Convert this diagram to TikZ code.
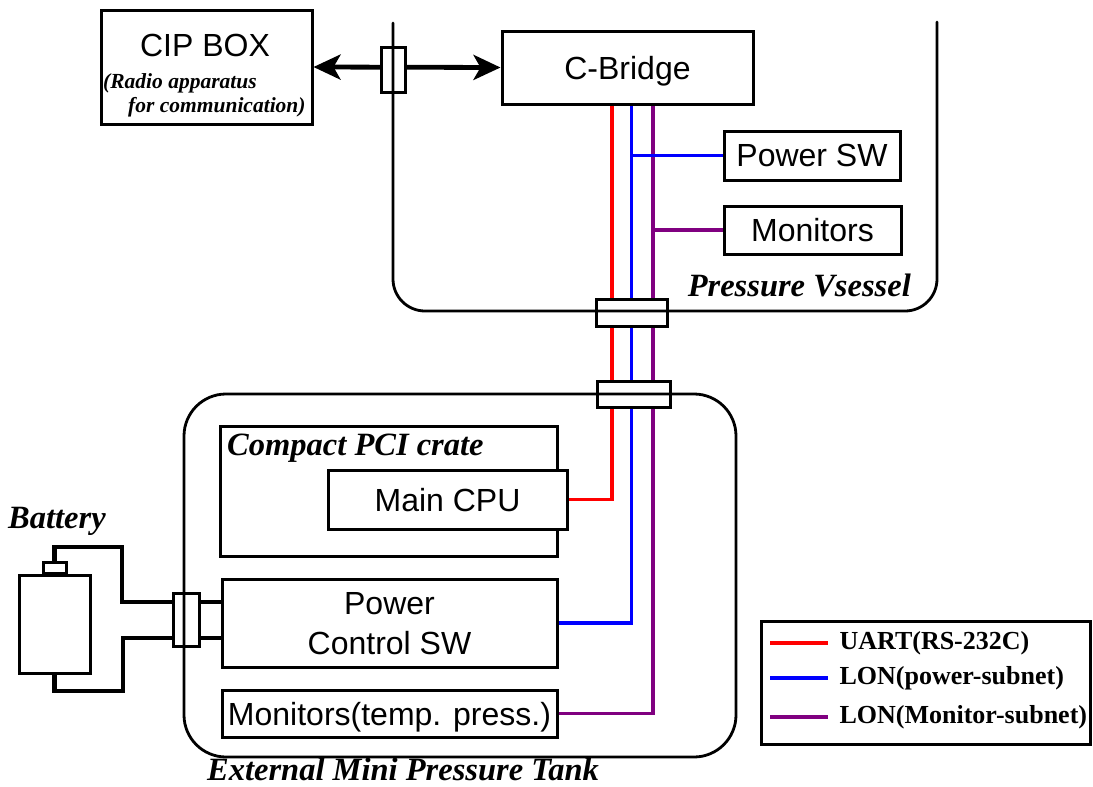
\documentclass[tikz,border=0pt]{standalone}
\usepackage{fontspec}
\setmainfont{Liberation Serif}
\setsansfont{Liberation Sans}
\usetikzlibrary{arrows.meta}
\pgfdeclarelayer{wires}
\pgfsetlayers{wires,main}
\definecolor{uartred}{RGB}{255,0,0}
\definecolor{lonblue}{RGB}{0,0,255}
\definecolor{lonpurple}{RGB}{128,0,128}

\begin{document}
\begin{tikzpicture}[x=1pt,y=-1pt,
  box/.style={draw, line width=3pt, fill=white, inner sep=0pt, align=center,
    text depth=0pt, font=\sffamily\fontsize{32}{40}\selectfont},
  feed/.style={draw, line width=3pt, fill=white, inner sep=0pt},
  wall/.style={line width=2.8pt, line cap=round},
  uart/.style={line width=3.2pt, uartred},
  lonpow/.style={line width=3.2pt, lonblue},
  lonmon/.style={line width=3.2pt, lonpurple},
  cable/.style={line width=4.6pt, line join=miter},
  link/.style={line width=4.8pt,
    {Stealth[length=27pt,width=25pt,inset=7pt]}-{Stealth[length=27pt,width=25pt,inset=7pt]}},
  tag/.style={inner sep=0pt, font=\bfseries\itshape\fontsize{32.5}{38}\selectfont},
  note/.style={inner sep=0pt, font=\bfseries\itshape\fontsize{21.5}{26}\selectfont},
  key/.style={inner sep=0pt, anchor=west, text=black, font=\bfseries\fontsize{26}{30}\selectfont}
]
\useasboundingbox (0,0) rectangle (1093,787);

% ---------------- units ----------------
\node[box, minimum width=211, minimum height=114] (cip) at (206.5,67) {};
\node[inner sep=0pt, font=\sffamily\fontsize{32}{37}\selectfont] at (205,45) {CIP BOX};
\node[note, anchor=west] at (103,83) {(Radio apparatus};
\node[note, anchor=west] at (128,107) {for communication)};

\node[box, minimum width=251, minimum height=73] (bridge) at (627.5,67.5) {C-Bridge};
\node[box, minimum width=176, minimum height=49] (psw) at (812,155.5) {Power SW};
\node[box, minimum width=177, minimum height=48] (vmon) at (812.5,230) {Monitors};

\node[box, minimum width=337, minimum height=130] (crate) at (388.5,491) {};
\node[tag, anchor=base west] at (227,455) {Compact PCI crate};
\node[box, minimum width=239, minimum height=59] (cpu) at (447.5,499.5) {Main CPU};
\node[box, minimum width=335, minimum height=88] (pcsw) at (389.5,623) {Power\\Control SW};
\node[box, minimum width=335, minimum height=47] (tmon) at (389.5,713.5) {Monitors(temp. press.)};

% battery
\node[feed, minimum width=71, minimum height=98] (batt) at (54.5,624) {};
\node[feed, minimum width=23, minimum height=11] (cap) at (54.5,567.5) {};
\node[tag, anchor=base west] at (8,528) {Battery};

% ---------------- feedthroughs ----------------
\node[feed, minimum width=24, minimum height=45] (pen0) at (393,69.5) {};
\node[feed, minimum width=71, minimum height=27] (pen1) at (631.5,312.5) {};
\node[feed, minimum width=73, minimum height=26] (pen2) at (633.5,394) {};
\node[feed, minimum width=26, minimum height=53] (pen3) at (186,619.5) {};

% ---------------- vessel walls ----------------
\draw[wall, rounded corners=32] (393,23) -- (393,311) -- (937,311) -- (937,22);
\draw[wall, rounded corners=42] (184,394) rectangle (736,757);
\node[tag, anchor=base east] at (911,296) {Pressure Vsessel};
\node[tag, anchor=base west] at (207,780) {External Mini Pressure Tank};

% ---------------- signal lines ----------------
\coordinate (rx) at (612,0);
\coordinate (bx) at (631.5,0);
\coordinate (px) at (653,0);
\coordinate (wy1) at (0,602);
\coordinate (wy2) at (0,638);
\coordinate (tA) at (122,547);
\coordinate (bA) at (123,691);

\begin{pgfonlayer}{wires}
  \draw[link] (cip.east) -- (bridge.west);
  \draw[uart] (bridge.south -| rx) |- (cpu.east);
  \draw[lonpow] (bridge.south -| bx) |- (pcsw.east);
  \draw[lonmon] (bridge.south -| px) |- (tmon.east);
  \draw[lonpow] (psw.west -| bx) -- (psw.west);
  \draw[lonmon] (vmon.west -| px) -- (vmon.west);
  \draw[cable] (cap.north) |- (tA) |- (pen3.west |- wy1);
  \draw[cable] (batt.south) |- (bA) |- (pen3.west |- wy2);
  \draw[cable] (pen3.east |- wy1) -- (pcsw.west |- wy1);
  \draw[cable] (pen3.east |- wy2) -- (pcsw.west |- wy2);
\end{pgfonlayer}

% ---------------- legend ----------------
\node[feed, minimum width=329, minimum height=123] (legend) at (925.5,682.5) {};
\draw[uart] (770,643) -- (828,643) node[key, right=10pt] {UART(RS-232C)};
\draw[lonpow] (770,678) -- (828,678) node[key, right=10pt] {LON(power-subnet)};
\draw[lonmon] (770,717) -- (828,717) node[key, right=10pt] {LON(Monitor-subnet)};
\end{tikzpicture}
\end{document}
